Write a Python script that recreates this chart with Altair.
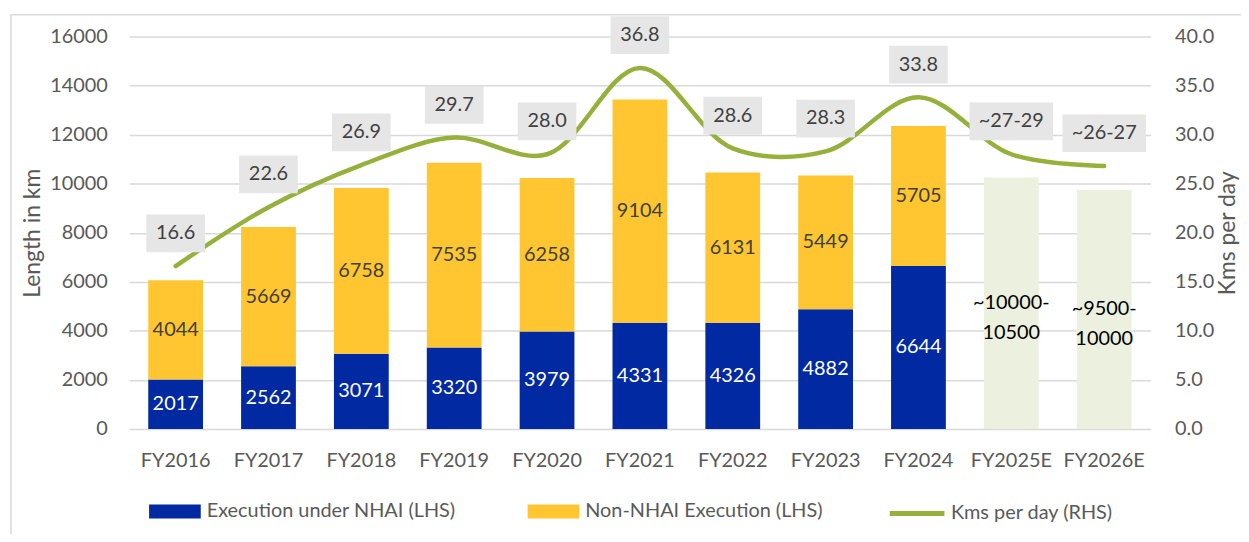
import altair as alt
import pandas as pd

# ---------------- data ----------------
categories = ["FY2016", "FY2017", "FY2018", "FY2019", "FY2020", "FY2021",
              "FY2022", "FY2023", "FY2024", "FY2025E", "FY2026E"]
actual_cats = ["FY2016", "FY2017", "FY2018", "FY2019", "FY2020", "FY2021",
               "FY2022", "FY2023", "FY2024"]
nhai = [2017, 2562, 3071, 3320, 3979, 4331, 4326, 4882, 6644]
non_nhai = [4044, 5669, 6758, 7535, 6258, 9104, 6131, 5449, 5705]
forecast_cats = ["FY2025E", "FY2026E"]
forecast_values = [10250, 9750]
forecast_labels = ["~10000-\n10500", "~9500-\n10000"]
kms_per_day = [16.6, 22.6, 26.9, 29.7, 28.0, 36.8, 28.6, 28.3, 33.8, 28.0, 26.8]
kms_labels = ["16.6", "22.6", "26.9", "29.7", "28.0", "36.8", "28.6", "28.3",
              "33.8", "~27-29", "~26-27"]
series_names = ["Execution under NHAI (LHS)", "Non-NHAI Execution (LHS)"]
line_name = "Kms per day (RHS)"

# ---------------- tables ----------------
bar_df = pd.DataFrame(
    [{"cat": c, "series": series_names[0], "value": v, "ord": 0} for c, v in zip(actual_cats, nhai)]
    + [{"cat": c, "series": series_names[1], "value": v, "ord": 1} for c, v in zip(actual_cats, non_nhai)]
)
fc_df = pd.DataFrame({"cat": forecast_cats, "value": forecast_values, "label": forecast_labels})
line_df = pd.DataFrame({"cat": categories, "kms": kms_per_day, "label": kms_labels,
                        "series": [line_name] * len(categories)})
frame_df = pd.DataFrame({"a": [0]})

# ---------------- style ----------------
FONT = "Lato"
BLUE = "#0029A2"
YELLOW = "#FFC632"
FC = "#EBF1DE"
GREEN = "#95B13B"
BOX = "#E6E6E6"
TXT = "#404040"
AX = "#595959"
GRID = "#D9D9D9"
FS = 20
TFS = 23

x_enc = alt.X("cat:N", sort=categories,
              scale=alt.Scale(domain=categories, paddingInner=0.41, paddingOuter=0.205),
              axis=alt.Axis(title=None, labelAngle=0, labelFontSize=FS, labelColor=AX,
                            labelPadding=22, ticks=False, domain=False, grid=False))

left_axis = alt.Axis(title="Length in km", titleFontSize=TFS, titleColor=AX, titleFontWeight="normal",
                     titlePadding=5, labelFontSize=FS, labelColor=AX, labelPadding=22,
                     ticks=False, domain=False, grid=True, gridColor=GRID, gridWidth=1.5,
                     values=list(range(0, 16001, 2000)), format="d", orient="left")
right_axis = alt.Axis(title="Kms per day", titleFontSize=TFS, titleColor=AX, titleFontWeight="normal",
                      titleAngle=270, titleBaseline="top", titlePadding=3,
                      labelFontSize=FS, labelColor=AX, labelPadding=24,
                      ticks=False, domain=False, grid=False,
                      values=[0, 5, 10, 15, 20, 25, 30, 35, 40], format=".1f", orient="right")


def lscale():
    return alt.Scale(domain=[0, 16000], nice=False, zero=True)


def rscale():
    return alt.Scale(domain=[0, 40], nice=False, zero=True)


frame = alt.Chart(frame_df).mark_rect(fill="transparent", stroke=GRID, strokeWidth=1.5).encode(
    x=alt.value(-119), x2=alt.value(1400), y=alt.value(-22), y2=alt.value(700))

bars = alt.Chart(bar_df).mark_bar().encode(
    x=x_enc,
    y=alt.Y("value:Q", stack="zero", scale=lscale(), axis=left_axis),
    color=alt.Color("series:N", scale=alt.Scale(domain=series_names, range=[BLUE, YELLOW]),
                    legend=alt.Legend(title=None, orient="none", legendX=20, legendY=452,
                                      direction="horizontal",
                                      symbolType="M-1,-0.27L1,-0.27L1,0.27L-1,0.27Z",
                                      symbolSize=2704, symbolOpacity=1, symbolStrokeWidth=0,
                                      labelFontSize=FS, labelColor=AX, labelOffset=6,
                                      columnPadding=72, labelLimit=400)),
    order=alt.Order("ord:Q"),
)

fc_bars = alt.Chart(fc_df).mark_bar(color=FC).encode(
    x=x_enc, y=alt.Y("value:Q", scale=lscale(), axis=None))

bar_labels = alt.Chart(bar_df).transform_stack(
    stack="value", as_=["y0", "y1"], groupby=["cat"], sort=[alt.SortField("ord")]
).transform_calculate(mid="(datum.y0 + datum.y1) / 2").mark_text(fontSize=FS, font=FONT).encode(
    x=x_enc,
    y=alt.Y("mid:Q", scale=lscale(), axis=None),
    text=alt.Text("value:Q", format="d"),
    color=alt.condition(alt.datum.ord == 0, alt.value("white"), alt.value(TXT)),
)

fc_labels = alt.Chart(fc_df).transform_calculate(mid="datum.value / 2").mark_text(
    fontSize=FS, font=FONT, color="black", lineBreak="\n", lineHeight=30).encode(
    x=x_enc, y=alt.Y("mid:Q", scale=lscale(), axis=None), text="label:N")

line = alt.Chart(line_df).mark_line(interpolate="catmull-rom", strokeWidth=4.5, strokeCap="round").encode(
    x=x_enc,
    y=alt.Y("kms:Q", scale=rscale(), axis=right_axis),
    stroke=alt.Stroke("series:N", scale=alt.Scale(domain=[line_name], range=[GREEN]),
                      legend=alt.Legend(title=None, orient="none", legendX=763, legendY=450,
                                        symbolType="stroke", symbolSize=3025, symbolStrokeWidth=5,
                                        labelFontSize=FS, labelColor=AX, labelOffset=4, labelLimit=400)),
)

box_a = alt.Chart(line_df).transform_filter(
    alt.FieldOneOfPredicate(field="cat", oneOf=actual_cats)
).mark_point(shape="M-1,-0.644L1,-0.644L1,0.644L-1,0.644Z", size=3481, filled=True,
             color=BOX, opacity=1, yOffset=-33).encode(
    x=x_enc, y=alt.Y("kms:Q", scale=rscale(), axis=None))

box_f = alt.Chart(line_df).transform_filter(
    alt.FieldOneOfPredicate(field="cat", oneOf=forecast_cats)
).mark_point(shape="M-1,-0.452L1,-0.452L1,0.452L-1,0.452Z", size=7056, filled=True,
             color=BOX, opacity=1, yOffset=-33).encode(
    x=x_enc, y=alt.Y("kms:Q", scale=rscale(), axis=None))

line_text = alt.Chart(line_df).mark_text(fontSize=FS, font=FONT, color=TXT, yOffset=-33).encode(
    x=x_enc, y=alt.Y("kms:Q", scale=rscale(), axis=None), text="label:N")

chart = alt.layer(
    frame, bars, fc_bars, bar_labels, fc_labels, line, box_a, box_f, line_text
).resolve_scale(y="independent", color="independent").properties(
    width=1028, height=395,
    autosize=alt.AutoSizeParams(type="none"),
    padding={"left": 122, "top": 27, "right": 91, "bottom": 104},
).configure(font=FONT).configure_view(strokeWidth=0)

chart.save("out.html", embed_options={"renderer": "svg", "actions": False})
